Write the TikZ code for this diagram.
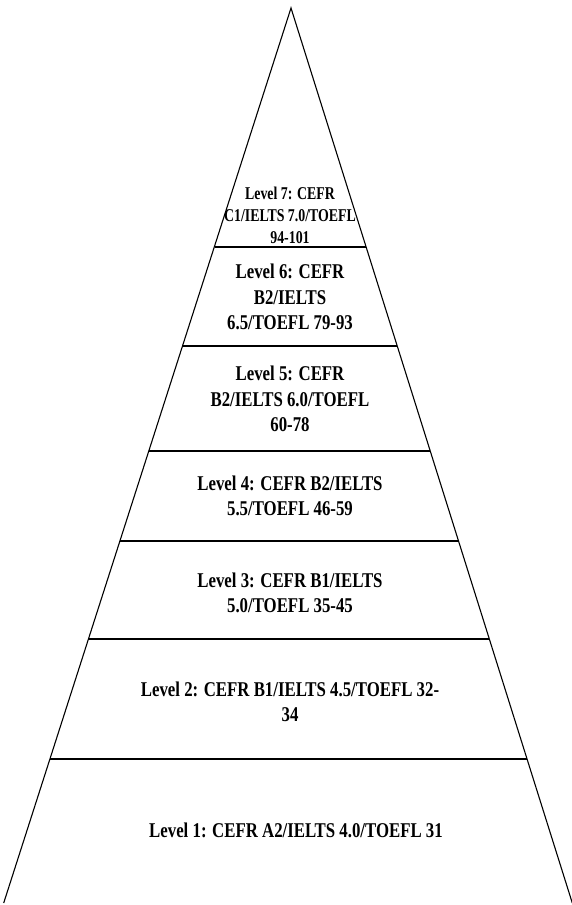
\documentclass[tikz,border=0pt]{standalone}
\usepackage{fontspec}
\setmainfont{Liberation Serif}
\begin{document}
\begin{tikzpicture}[x=1pt,y=-1pt,
  side/.style={line width=1.1pt, black},
  rule/.style={line width=1.7pt, black},
  lvl/.style={font=\fontsize{21}{25.5}\selectfont\bfseries, align=center, xscale=0.80, transform shape, inner sep=0pt},
  lvlsmall/.style={font=\fontsize{18}{22}\selectfont\bfseries, align=center, xscale=0.77, transform shape, inner sep=0pt}]
\useasboundingbox (0,0) rectangle (571,905);
% pyramid outline
\coordinate (A) at (291,8);
\coordinate (BL) at (3.7,903);
\coordinate (BR) at (572.3,903);
\draw[side] (BL) -- (A) -- (BR);
% dividing rules
\coordinate (l7) at (214.5,247); \coordinate (r7) at (366.0,247);
\coordinate (l6) at (182.7,346); \coordinate (r6) at (397.1,346);
\coordinate (l5) at (149.0,451); \coordinate (r5) at (430.1,451);
\coordinate (l4) at (120.0,541); \coordinate (r4) at (458.4,541);
\coordinate (l3) at (88.6,639);  \coordinate (r3) at (489.3,639);
\coordinate (l2) at (50.0,759);  \coordinate (r2) at (527.0,759);
\draw[rule] (l7) -- (r7);
\draw[rule] (l6) -- (r6);
\draw[rule] (l5) -- (r5);
\draw[rule] (l4) -- (r4);
\draw[rule] (l3) -- (r3);
\draw[rule] (l2) -- (r2);
% labels
\node[lvlsmall] (t7) at (290,215) {Level 7: CEFR\\C1/IELTS 7.0/TOEFL\\94-101};
\node[lvl] (t6) at (290,297) {Level 6: CEFR\\B2/IELTS\\6.5/TOEFL 79-93};
\node[lvl] (t5) at (290,399) {Level 5: CEFR\\B2/IELTS 6.0/TOEFL\\60-78};
\node[lvl] (t4) at (290,496) {Level 4: CEFR B2/IELTS\\5.5/TOEFL 46-59};
\node[lvl] (t3) at (290,593) {Level 3: CEFR B1/IELTS\\5.0/TOEFL 35-45};
\node[lvl] (t2) at (290,702) {Level 2: CEFR B1/IELTS 4.5/TOEFL 32-\\34};
\node[lvl] (t1) at (296,830) {Level 1: CEFR A2/IELTS 4.0/TOEFL 31};
\end{tikzpicture}
\end{document}
